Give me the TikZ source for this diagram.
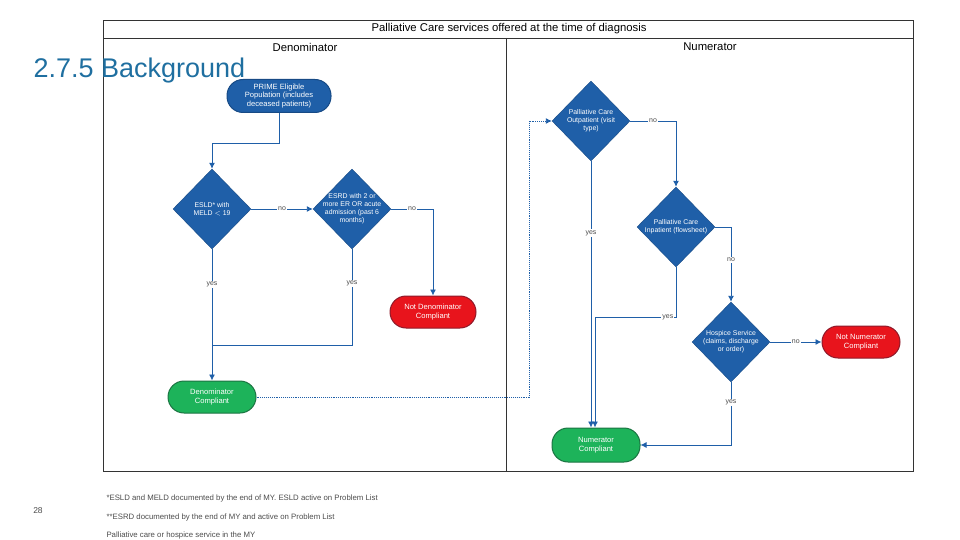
\documentclass[tikz,border=0pt]{standalone}
\usepackage{fontspec}
\setmainfont{Liberation Sans}
\usepackage{xcolor}
\usepackage{tikz}
\usetikzlibrary{shapes.geometric,arrows.meta}

\definecolor{flowblue}{HTML}{1F5FA8}
\definecolor{flowblueline}{HTML}{174A85}
\definecolor{flowred}{HTML}{E8141C}
\definecolor{flowredline}{HTML}{8E1A2A}
\definecolor{flowgreen}{HTML}{1DB35A}
\definecolor{flowgreenline}{HTML}{1B7442}
\definecolor{headblue}{HTML}{1F6FA0}

\tikzset{
  term/.style={draw=flowblueline,line width=1pt,rectangle,rounded corners=16pt,
    minimum width=104pt,minimum height=33pt,text=white,align=center,
    font=\fontsize{7.6}{8.8}\selectfont,inner sep=0pt},
  decision/.style={draw=flowblueline,fill=flowblue,diamond,aspect=1,inner sep=-8pt,
    minimum width=78pt,minimum height=80pt,text=white,align=center,
    font=\fontsize{6.9}{8}\selectfont},
  flow/.style={draw=flowblue,line width=0.9pt,-{Latex[length=6pt,width=6pt]}},
  plain/.style={draw=flowblue,line width=0.9pt},
  lbl/.style={fill=white,inner sep=1pt,text=black!70,font=\fontsize{7}{8}\selectfont},
  header/.style={font=\fontsize{11.3}{13}\selectfont},
  footnote/.style={anchor=west,text=black!70,font=\fontsize{7.8}{9}\selectfont}
}

\begin{document}
\begin{tikzpicture}[x=1pt,y=-1pt]
\useasboundingbox (0,0) rectangle (960,540);

% frame
\draw[black!80,line width=0.8pt] (103,20) rectangle (913,471);
\draw[black!80,line width=0.8pt] (103,38) -- (913,38);
\draw[black!80,line width=0.8pt] (506,38) -- (506,471);
\node[header] (title) at (509,29) {Palliative Care services offered at the time of diagnosis};
\node[header] (denhead) at (305,47) {Denominator};
\node[header] (numhead) at (710,47) {Numerator};

\node[anchor=west,text=headblue,font=\fontsize{27}{31}\selectfont] (bg) at (30,71) {2.7.5 Background};

% denominator side
\node[term,fill=flowblue] (prime) at (279,96) {PRIME Eligible\\Population (includes\\deceased patients)};
\node[decision] (d1) at (212,209) {ESLD* with\\MELD $<$ 19};
\node[decision] (d2) at (352,209) {ESRD with 2 or\\more ER OR acute\\admission (past 6\\months)};
\node[term,fill=flowred,draw=flowredline,minimum width=86pt,minimum height=32pt] (notden) at (433,312) {Not Denominator\\Compliant};
\node[term,fill=flowgreen,draw=flowgreenline,minimum width=88pt,minimum height=32pt] (denc) at (212,397) {Denominator\\Compliant};

% numerator side
\node[decision] (n1) at (591,121) {Palliative Care\\Outpatient (visit\\type)};
\node[decision] (n2) at (676,227) {Palliative Care\\Inpatient (flowsheet)};
\node[decision] (n3) at (731,342) {Hospice Service\\(claims, discharge\\or order)};
\node[term,fill=flowred,draw=flowredline,minimum width=78pt,minimum height=32pt] (notnum) at (861,342) {Not Numerator\\Compliant};
\node[term,fill=flowgreen,draw=flowgreenline,minimum width=88pt,minimum height=34pt] (numc) at (596,445) {Numerator\\Compliant};

\coordinate (j1) at (212,345);
\coordinate (dt) at (529,397);

% connectors
\draw[flow] (prime.south) -- ++(0,30) -| (d1.north);
\draw[flow] (d1.east) -- node[lbl]{no} (d2.west);
\draw[flow] (d2.east) -| node[lbl,pos=0.25]{no} (notden.north);
\draw[flow] (d1.south) -- node[lbl,pos=0.27]{yes} (denc.north);
\draw[plain] (d2.south) -- node[lbl,pos=0.36]{yes} (d2.south |- j1) -- (j1);
\draw[flow,densely dotted] (denc.east) -- (dt) |- (n1.west);
\draw[flow] (n1.east) -| node[lbl,pos=0.25]{no} (n2.north);
\draw[flow] (n1.south) -- node[lbl,pos=0.27]{yes} (n1.south |- numc.north);
\draw[flow] (n2.south) -- ++(0,50) -| node[lbl,pos=0.05]{yes} ([xshift=-1pt]numc.north);
\draw[flow] (n2.east) -| node[lbl,pos=0.72]{no} (n3.north);
\draw[flow] (n3.east) -- node[lbl]{no} (notnum.west);
\draw[flow] (n3.south) |- node[lbl,pos=0.16]{yes} (numc.east);

% footnotes
\node[text=black!70,font=\fontsize{8.5}{10}\selectfont] (pg) at (38,511) {28};
\node[footnote] (fn1) at (103,498) {*ESLD and MELD documented by the end of MY. ESLD active on Problem List};
\node[footnote] (fn2) at (103,517) {**ESRD documented by the end of MY and active on Problem List};
\node[footnote] (fn3) at (103,535) {Palliative care or hospice service in the MY};
\end{tikzpicture}
\end{document}
